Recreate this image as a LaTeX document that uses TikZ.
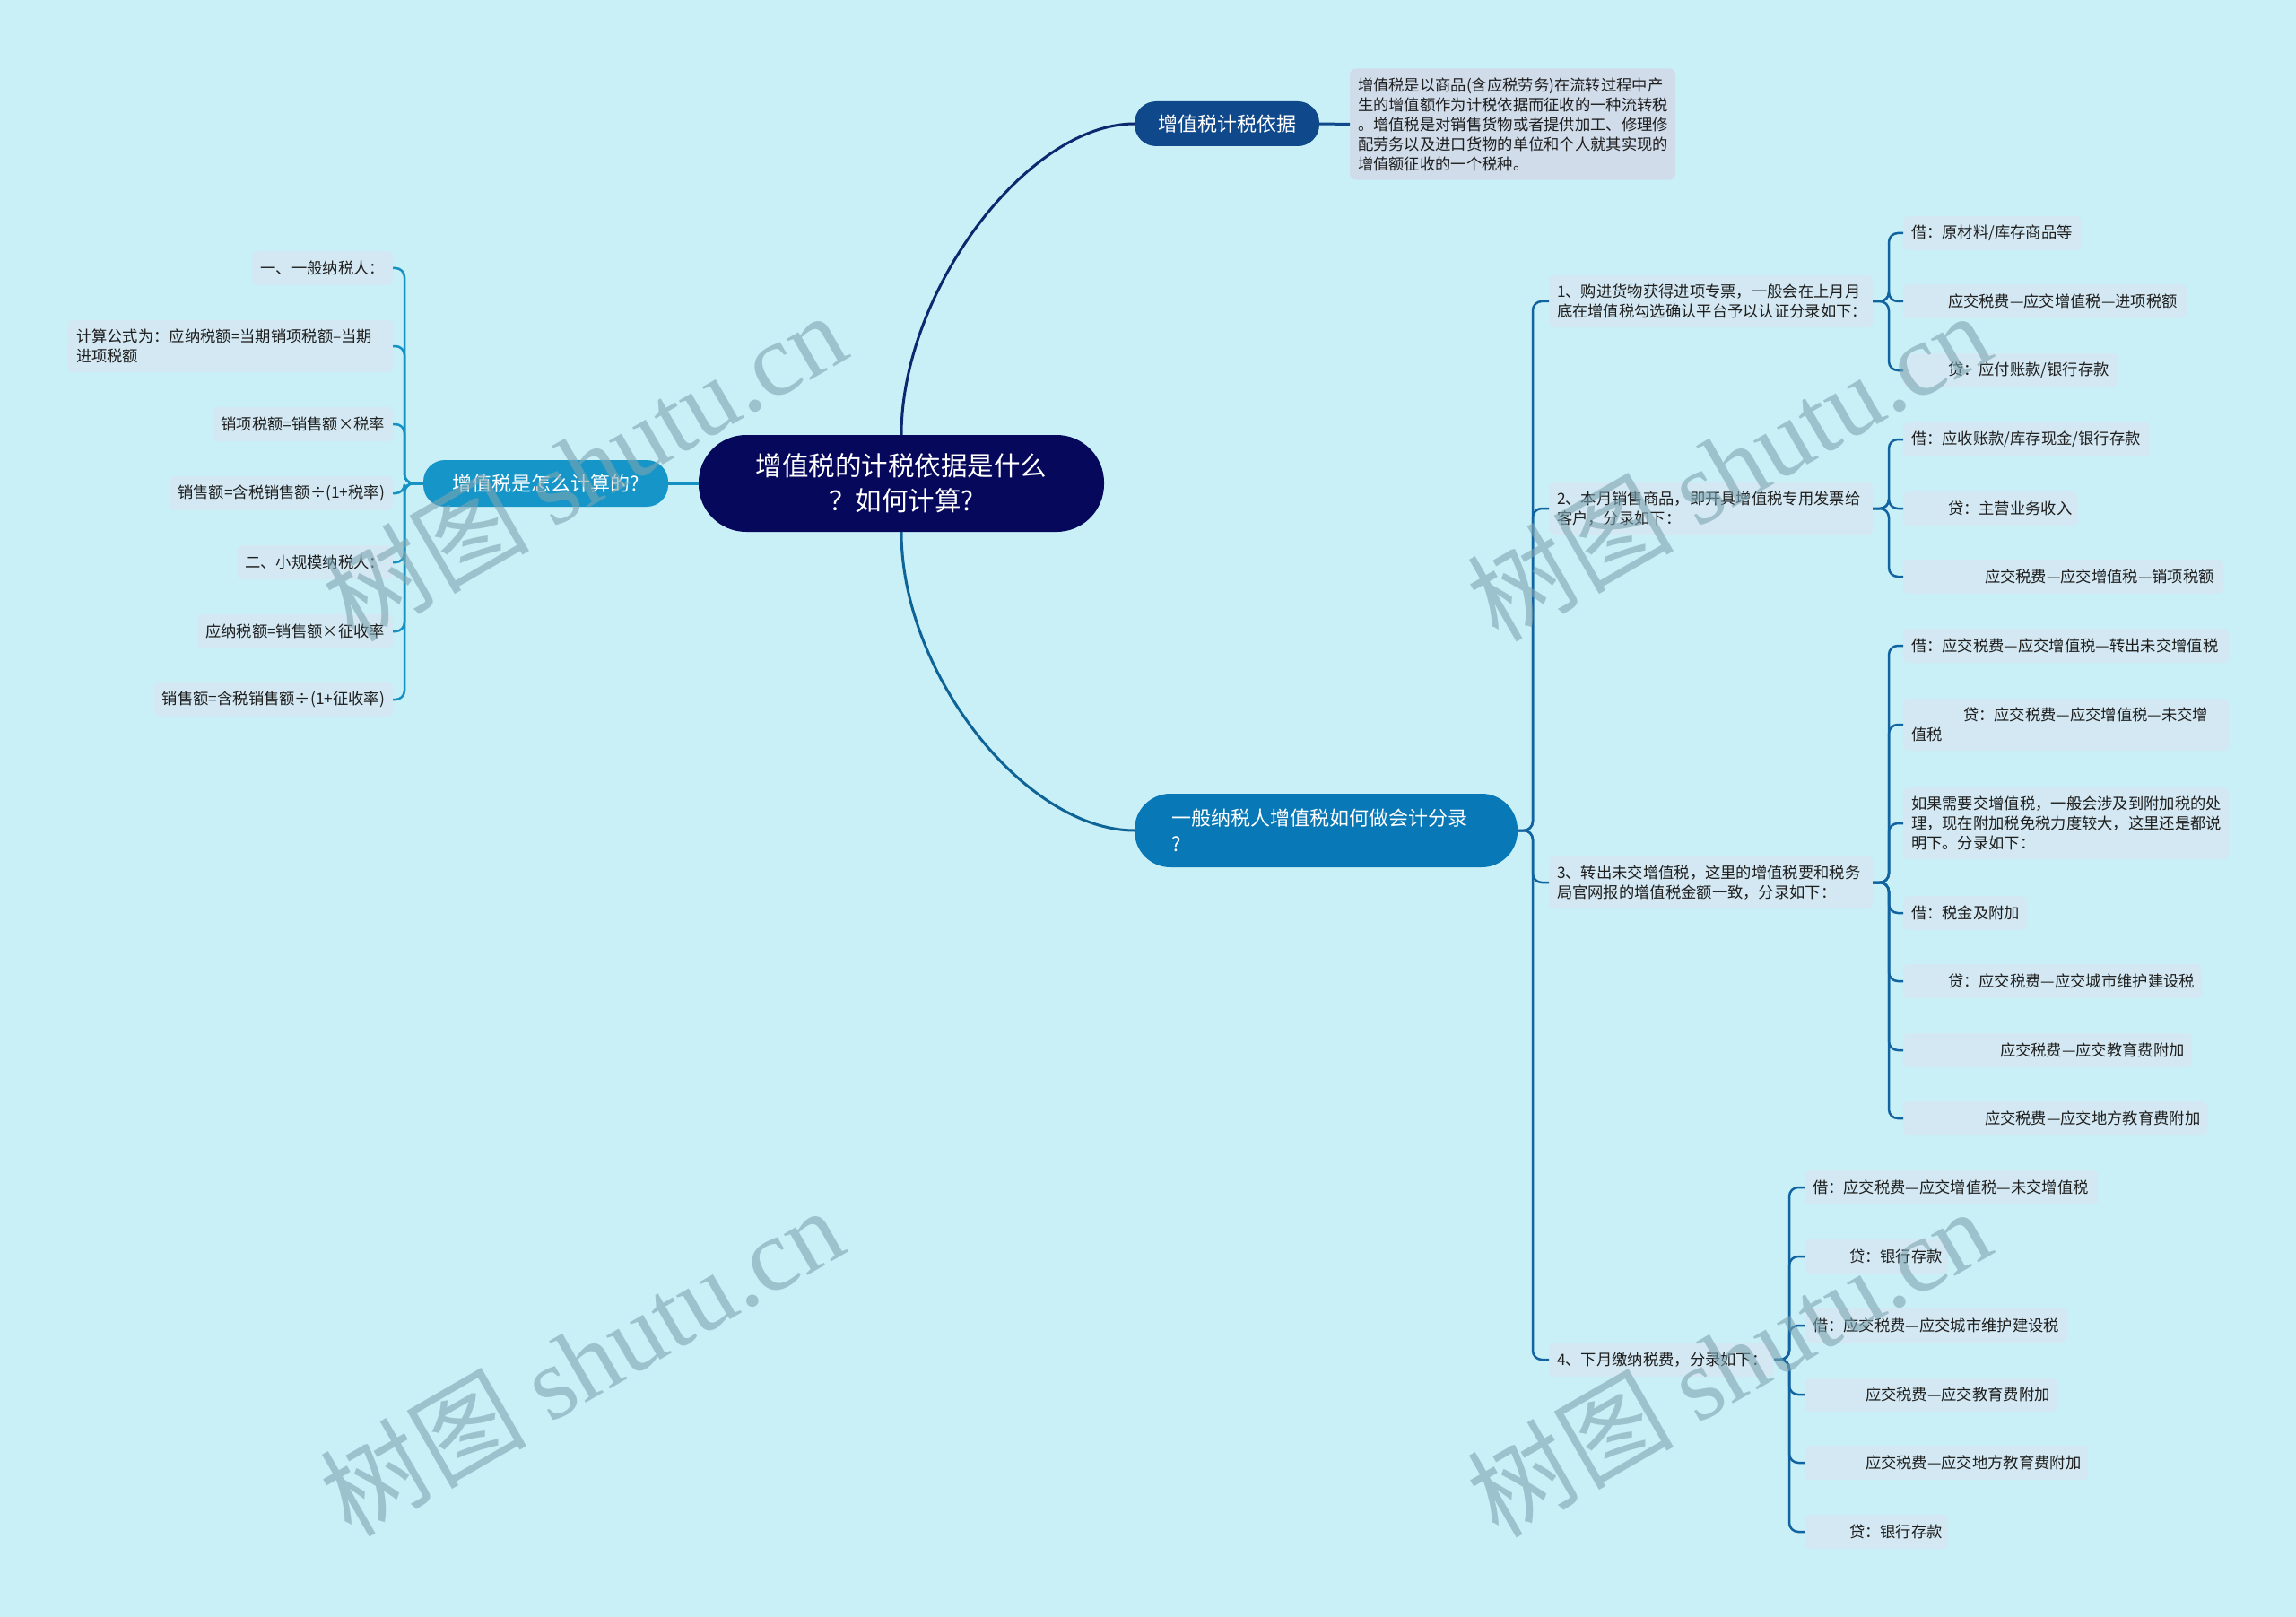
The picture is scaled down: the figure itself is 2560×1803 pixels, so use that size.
\documentclass[tikz,border=0pt]{standalone}
\usepackage{fontspec}
\setmainfont{Noto Sans CJK SC}
\newfontfamily\wmlatin{Liberation Serif}
\definecolor{bgc}{RGB}{201,239,247}
\definecolor{leafc}{RGB}{211,232,242}
\definecolor{descc}{RGB}{208,220,233}
\definecolor{rootc}{RGB}{6,8,92}
\definecolor{bonec}{RGB}{16,72,140}
\definecolor{btwoc}{RGB}{22,150,200}
\definecolor{bthreec}{RGB}{8,120,182}
\definecolor{lnroota}{RGB}{12,40,110}
\definecolor{lnrootb}{RGB}{14,100,150}
\definecolor{lnleft}{RGB}{22,145,195}
\definecolor{lnright}{RGB}{18,100,160}
\definecolor{txt}{RGB}{30,30,30}
\definecolor{wmc}{RGB}{125,165,178}
\newcommand{\ind}[2]{\mbox{\hspace*{#1}#2}}
\begin{document}
\begin{tikzpicture}[x=1pt,y=-1pt,
  every node/.style={inner sep=0pt,outer sep=0pt},
  leaf/.style={fill=leafc,rounded corners=6pt,inner xsep=9pt,inner ysep=10pt,
    minimum height=38pt,text=txt,font=\fontsize{17.3}{22}\selectfont},
  rleaf/.style={leaf,anchor=west,align=left,text width=#1},
  lleaf/.style={leaf,anchor=east},
  descbox/.style={fill=descc,rounded corners=7pt,inner xsep=9pt,inner ysep=10pt,
    text=txt,font=\fontsize{17.3}{22}\selectfont,anchor=west,align=left,text width=345pt},
  rootbox/.style={fill=rootc,rounded corners=53pt,minimum width=452pt,minimum height=108pt,
    text=white,align=center,font=\fontsize{29.5}{39}\selectfont},
  brbox/.style={rounded corners=24pt,minimum height=50pt,text=white,
    font=\fontsize{22}{29}\selectfont},
  lnL/.style={draw=lnleft,line width=2.5pt,rounded corners=10pt},
  lnR/.style={draw=lnright,line width=2.5pt,rounded corners=10pt},
  wm/.style={rotate=30,text=wmc,text opacity=0.6,font=\fontsize{115}{115}\selectfont}
]
\useasboundingbox (0,0) rectangle (2560,1803);
\fill[bgc] (0,0) rectangle (2560,1803);

% main nodes
\node[rootbox] (root) at (1005,539) {增值税的计税依据是什么\\？如何计算?};
\node[brbox,fill=bonec,minimum width=206pt] (b1) at (1368,138) {增值税计税依据};
\node[brbox,fill=btwoc,minimum width=273pt,minimum height=52pt] (b2) at (608.5,539) {增值税是怎么计算的?};
\node[brbox,fill=bthreec,anchor=west,minimum height=82pt,rounded corners=40pt,
  inner xsep=41pt,text width=345pt,align=left] (b3) at (1265,926)
  {\mbox{一般纳税人增值税如何做会计分录}\\?};

% description
\node[descbox] (desc) at (1505,138.5) {\mbox{增值税是以商品(含应税劳务)在流转过程中产}\\\mbox{生的增值额作为计税依据而征收的一种流转税}\\\mbox{。增值税是对销售货物或者提供加工、修理修}\\\mbox{配劳务以及进口货物的单位和个人就其实现的}\\\mbox{增值额征收的一个税种。}};

% left leaves
\node[lleaf] (L1) at (438,299) {一、一般纳税人：};
\node[lleaf,align=left,text width=344pt] (L2) at (438,386) {\mbox{计算公式为：应纳税额=当期销项税额–当期}\\进项税额};
\node[lleaf] (L3) at (438,473) {销项税额=销售额×税率};
\node[lleaf] (L4) at (438,550) {销售额=含税销售额÷(1+税率)};
\node[lleaf] (L5) at (438,627) {二、小规模纳税人：};
\node[lleaf] (L6) at (438,704) {应纳税额=销售额×征收率};
\node[lleaf] (L7) at (438,780) {销售额=含税销售额÷(1+征收率)};

% branch 3 children
\node[rleaf=343pt] (c1) at (1727,336) {\mbox{1、购进货物获得进项专票，一般会在上月月}\\\mbox{底在增值税勾选确认平台予以认证分录如下：}};
\node[rleaf=343pt] (c2) at (1727,567) {\mbox{2、本月销售商品，即开具增值税专用发票给}\\\mbox{客户，分录如下：}};
\node[rleaf=343pt] (c3) at (1727,984) {\mbox{3、转出未交增值税，这里的增值税要和税务}\\\mbox{局官网报的增值税金额一致，分录如下：}};
\node[rleaf=233pt] (c4) at (1727,1516) {\mbox{4、下月缴纳税费，分录如下：}};

% grandchildren
\node[rleaf=180pt] (g1a) at (2122,260) {\ind{0pt}{借：原材料/库存商品等}};
\node[rleaf=298pt] (g1b) at (2122,336) {\ind{41pt}{应交税费—应交增值税—进项税额}};
\node[rleaf=221pt] (g1c) at (2122,413) {\ind{41pt}{贷：应付账款/银行存款}};
\node[rleaf=257pt] (g2a) at (2122,490) {\ind{0pt}{借：应收账款/库存现金/银行存款}};
\node[rleaf=177pt] (g2b) at (2122,567) {\ind{41pt}{贷：主营业务收入}};
\node[rleaf=339pt] (g2c) at (2122,643) {\ind{82pt}{应交税费—应交增值税—销项税额}};
\node[rleaf=345pt] (g3a) at (2122,720) {\ind{0pt}{借：应交税费—应交增值税—转出未交增值税}};
\node[rleaf=345pt] (g3b) at (2122,808) {\ind{58pt}{贷：应交税费—应交增值税—未交增}\\值税};
\node[rleaf=345pt] (g3c) at (2122,918) {\mbox{如果需要交增值税，一般会涉及到附加税的处}\\\mbox{理，现在附加税免税力度较大，这里还是都说}\\\mbox{明下。分录如下：}};
\node[rleaf=120pt] (g3d) at (2122,1018) {\ind{0pt}{借：税金及附加}};
\node[rleaf=315pt] (g3e) at (2122,1094) {\ind{41pt}{贷：应交税费—应交城市维护建设税}};
\node[rleaf=304pt] (g3f) at (2122,1171) {\ind{99pt}{应交税费—应交教育费附加}};
\node[rleaf=321pt] (g3g) at (2122,1247) {\ind{82pt}{应交税费—应交地方教育费附加}};
\node[rleaf=309pt] (g4a) at (2012,1324) {\ind{0pt}{借：应交税费—应交增值税—未交增值税}};
\node[rleaf=142pt] (g4b) at (2012,1401) {\ind{41pt}{贷：银行存款}};
\node[rleaf=275pt] (g4c) at (2012,1478) {\ind{0pt}{借：应交税费—应交城市维护建设税}};
\node[rleaf=263pt] (g4d) at (2012,1555) {\ind{59pt}{应交税费—应交教育费附加}};
\node[rleaf=298pt] (g4e) at (2012,1631) {\ind{59pt}{应交税费—应交地方教育费附加}};
\node[rleaf=142pt] (g4f) at (2012,1708) {\ind{41pt}{贷：银行存款}};

% spine coordinates
\coordinate (sL) at (451,539);
\coordinate (s3) at (1709,926);
\coordinate (k1) at (2106,336);
\coordinate (k2) at (2106,567);
\coordinate (k3) at (2106,984);
\coordinate (k4) at (1995,1516);

% root connectors
\draw[draw=lnroota,line width=3pt] (root.north) .. controls +(0,-160) and +(-120,0) .. (b1.west);
\draw[draw=lnrootb,line width=3pt] (root.south) .. controls +(0,160) and +(-120,0) .. (b3.west);
\draw[draw=lnleft,line width=3pt] (root.west) -- (b2.east);
\draw[draw=bonec,line width=3pt] (b1.east) -- (desc.west);

% left subtree
\foreach \n in {L1,L2,L3,L4,L5,L6,L7}
  \draw[lnL] (b2.west) -- (sL) |- (\n.east);

% branch 3 subtree
\foreach \n in {c1,c2,c3,c4}
  \draw[lnR] (b3.east) -- (s3) |- (\n.west);
\foreach \n in {g1a,g1b,g1c}
  \draw[lnR] (c1.east) -- (k1) |- (\n.west);
\foreach \n in {g2a,g2b,g2c}
  \draw[lnR] (c2.east) -- (k2) |- (\n.west);
\foreach \n in {g3a,g3b,g3c,g3d,g3e,g3f,g3g}
  \draw[lnR] (c3.east) -- (k3) |- (\n.west);
\foreach \n in {g4a,g4b,g4c,g4d,g4e,g4f}
  \draw[lnR] (c4.east) -- (k4) |- (\n.west);

% watermarks
\node[wm] (wm1) at (651,519) {树图 {\wmlatin shutu.cn}};
\node[wm] (wm2) at (1927,519) {树图 {\wmlatin shutu.cn}};
\node[wm] (wm3) at (648,1517) {树图 {\wmlatin shutu.cn}};
\node[wm] (wm4) at (1927,1518) {树图 {\wmlatin shutu.cn}};
\end{tikzpicture}
\end{document}
